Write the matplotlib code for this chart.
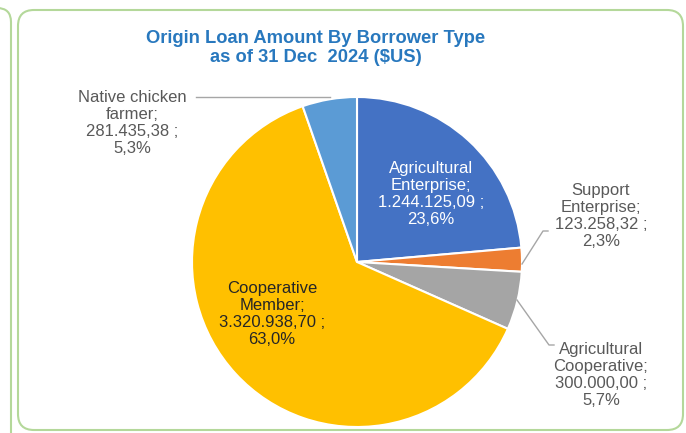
import matplotlib
matplotlib.use("Agg")
import matplotlib.pyplot as plt
from matplotlib.patches import FancyBboxPatch

plt.rcParams['font.family'] = ['Liberation Sans', 'DejaVu Sans']

categories = ["Agricultural\nEnterprise", "Support\nEnterprise", "Agricultural\nCooperative",
              "Cooperative\nMember", "Native chicken\nfarmer"]
values = [1244125.09, 123258.32, 300000.00, 3320938.70, 281435.38]
value_labels = ["1.244.125,09", "123.258,32", "300.000,00", "3.320.938,70", "281.435,38"]
pct_labels = ["23,6%", "2,3%", "5,7%", "63,0%", "5,3%"]
colors = ["#4472C4", "#ED7D31", "#A5A5A5", "#FFC000", "#5B9BD5"]
title = "Origin Loan Amount By Borrower Type\nas of 31 Dec  2024 ($US)"

W, H = 686, 433
fig = plt.figure(figsize=(W / 100, H / 100), dpi=100)

# background frame axes in pixel coordinates
bg = fig.add_axes([0, 0, 1, 1])
bg.set_xlim(0, W)
bg.set_ylim(H, 0)
bg.axis("off")
green = "#B4D89A"
bg.add_patch(FancyBboxPatch((-200, 8), 211, 440, boxstyle="round,pad=0,rounding_size=14",
                            fc="white", ec=green, lw=1.5))
bg.add_patch(FancyBboxPatch((18, 10), 665, 420, boxstyle="round,pad=0,rounding_size=16",
                            fc="white", ec=green, lw=1.5))
bg.text(316, 48, title, ha="center", va="center", fontsize=13.2, fontweight="bold",
        color="#2878BE", linespacing=1.16)

# pie axes: center (357, 262), radius 165 px
cx, cy, r = 357, 262, 165
ax = fig.add_axes([(cx - r) / W, (H - cy - r) / H, 2 * r / W, 2 * r / H])
ax.pie(values, colors=colors, startangle=90, counterclock=False,
       wedgeprops=dict(edgecolor="white", linewidth=1.5))
ax.set_xlim(-1, 1)
ax.set_ylim(-1, 1)
ax.set_aspect("equal")


def px(x, y):
    return ((x - cx) / r, (cy - y) / r)


labels = [f"{c};\n{v} ;\n{p}" for c, v, p in zip(categories, value_labels, pct_labels)]
fs = 12
ls = 1.17
# inside labels
ax.text(*px(431, 194), labels[0], ha="center", va="center", fontsize=fs, color="white", linespacing=ls)
ax.text(*px(272, 314), labels[3], ha="center", va="center", fontsize=fs, color="#262626", linespacing=ls)
# outside labels
gray_txt = "#595959"
lc = "#A6A6A6"
ax.text(*px(601, 216), labels[1], ha="center", va="center", fontsize=fs, color=gray_txt, linespacing=ls)
ax.plot(*zip(px(522, 264), px(543, 231), px(548, 231)), color=lc, lw=1, clip_on=False)
ax.text(*px(601, 375), labels[2], ha="center", va="center", fontsize=fs, color=gray_txt, linespacing=ls)
ax.plot(*zip(px(517, 300), px(549, 345), px(554, 345)), color=lc, lw=1, clip_on=False)
ax.text(*px(132, 123), labels[4], ha="center", va="center", fontsize=fs, color=gray_txt, linespacing=ls)
ax.plot(*zip(px(330, 97), px(196, 97)), color=lc, lw=1, clip_on=False)

fig.savefig("out.png", dpi=100)
